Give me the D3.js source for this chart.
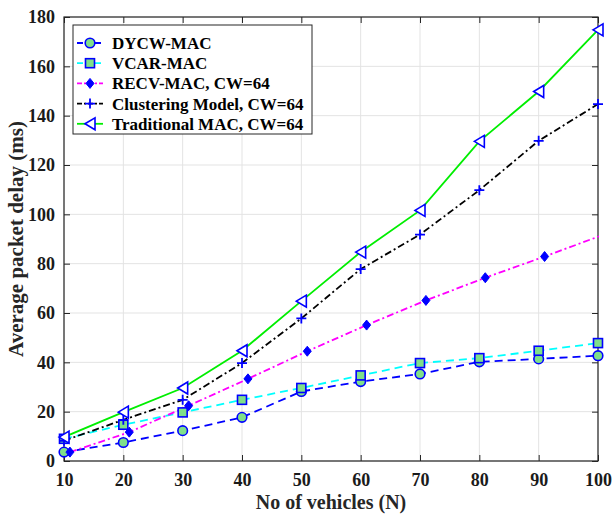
<!DOCTYPE html>
<html>
<head>
<meta charset="utf-8">
<script src="https://cdn.jsdelivr.net/npm/d3@7"></script>
<style>
body { margin:0; background:#fff; }
svg text { font-family: "Liberation Serif", "Times New Roman", serif; font-weight: bold; }
</style>
</head>
<body>
<div class="chart"></div>
<script>
// data
let vehicles = [10, 20, 30, 40, 50, 60, 70, 80, 90, 100];
let recvX = [11, 21, 31, 41, 51, 61, 71, 81, 91, 101];
let dycw = [3.6, 7.5, 12.3, 17.7, 28.2, 32.2, 35.3, 40.2, 41.4, 42.7];
let vcar = [9, 14.7, 19.7, 24.8, 29.6, 34.7, 39.7, 41.7, 44.7, 47.8];
let recv = [3.6, 11.7, 22.4, 33.3, 44.5, 55.1, 65.1, 74.3, 82.9, 91.8];
let clustering = [8.2, 16.7, 24.8, 39.7, 57.8, 77.8, 91.8, 109.8, 129.8, 144.7];
let traditional = [9.7, 19.8, 29.6, 44.7, 64.8, 84.7, 101.6, 129.6, 149.8, 174.8];
let xTicks = [10, 20, 30, 40, 50, 60, 70, 80, 90, 100];
let yTicks = [0, 20, 40, 60, 80, 100, 120, 140, 160, 180];

let series = [
    {name:"DYCW-MAC", xs:vehicles, ys:dycw, color:"#0000ff", dash:"8,5", marker:"circle"},
    {name:"VCAR-MAC", xs:vehicles, ys:vcar, color:"#00ffff", dash:"8,5", marker:"square"},
    {name:"RECV-MAC, CW=64", xs:recvX, ys:recv, color:"#ff00ff", dash:"7,3,2,3", marker:"diamond"},
    {name:"Clustering Model, CW=64", xs:vehicles, ys:clustering, color:"#000000", dash:"7,3,2,3", marker:"plus"},
    {name:"Traditional MAC, CW=64", xs:vehicles, ys:traditional, color:"#00ee00", dash:null, marker:"triangle"}
];

let outWidth = 613, outHeight = 515;
let margin = {top:17, right:15, left:64, bottom:54};
let width = outWidth - margin.left - margin.right,
    height = outHeight - margin.top - margin.bottom;

const svg = d3.select('.chart').append('svg')
    .attr("width", outWidth)
    .attr("height", outHeight);

const g = svg.append("g")
    .attr("transform", `translate(${margin.left}, ${margin.top})`);

let x = d3.scaleLinear().domain([10, 100]).range([0, width]);
let y = d3.scaleLinear().domain([0, 180]).range([height, 0]);

// grid
g.selectAll(".gx").data(xTicks).join("line")
    .attr("x1", d=>x(d)).attr("x2", d=>x(d))
    .attr("y1", 0).attr("y2", height)
    .attr("stroke", "#e3e3e3").attr("stroke-width", 1);
g.selectAll(".gy").data(yTicks).join("line")
    .attr("y1", d=>y(d)).attr("y2", d=>y(d))
    .attr("x1", 0).attr("x2", width)
    .attr("stroke", "#e3e3e3").attr("stroke-width", 1);

// axes, ticks inside like matlab
const styleAxis = sel => {
    sel.select(".domain").remove();
    sel.selectAll("line").attr("stroke", "#262626").attr("stroke-width", 1);
    sel.selectAll("text").attr("font-size", "18px").attr("fill", "#1a1a1a")
       .attr("font-family", "Liberation Serif").attr("font-weight", "bold");
};
g.append("g").attr("transform", `translate(0,${height})`)
    .call(d3.axisBottom(x).tickValues(xTicks).tickSizeInner(-6).tickSizeOuter(0).tickPadding(12))
    .call(styleAxis);
g.append("g")
    .call(d3.axisLeft(y).tickValues(yTicks).tickSizeInner(-6).tickSizeOuter(0).tickPadding(9))
    .call(styleAxis);
g.append("g")
    .call(d3.axisTop(x).tickValues(xTicks).tickSizeInner(-6).tickSizeOuter(0).tickFormat(""))
    .call(styleAxis);
g.append("g").attr("transform", `translate(${width},0)`)
    .call(d3.axisRight(y).tickValues(yTicks).tickSizeInner(-6).tickSizeOuter(0).tickFormat(""))
    .call(styleAxis);

g.append("rect").attr("width", width).attr("height", height)
    .attr("fill", "none").attr("stroke", "#262626").attr("stroke-width", 1.2);

svg.append("defs").append("clipPath").attr("id", "clip")
    .append("rect").attr("width", width + 1).attr("height", height);

// markers
function drawMarker(sel, type) {
    if (type === "circle") {
        sel.append("circle").attr("r", 4.8)
            .attr("fill", "#7fe08a").attr("stroke", "#0000ff").attr("stroke-width", 1.6);
    } else if (type === "square") {
        sel.append("rect").attr("x", -4.5).attr("y", -4.5).attr("width", 9).attr("height", 9)
            .attr("fill", "#7fe08a").attr("stroke", "#0000ff").attr("stroke-width", 1.6);
    } else if (type === "diamond") {
        sel.append("path").attr("d", "M0,-5L4,0L0,5L-4,0Z")
            .attr("fill", "#0000ff").attr("stroke", "#0000ff").attr("stroke-width", 1);
    } else if (type === "plus") {
        sel.append("path").attr("d", "M-5,0H5M0,-5V5")
            .attr("fill", "none").attr("stroke", "#0000ff").attr("stroke-width", 1.8);
    } else if (type === "triangle") {
        sel.append("path").attr("d", "M-5,0L5,-6L5,6Z")
            .attr("fill", "#ffffff").attr("stroke", "#0000ff").attr("stroke-width", 1.6);
    }
}

const line = d3.line().x(d=>x(d[0])).y(d=>y(d[1]));
const plot = g.append("g").attr("clip-path", "url(#clip)");

series.forEach(s => {
    let pts = s.xs.map((v, i) => [v, s.ys[i]]);
    plot.append("path").datum(pts)
        .attr("d", line)
        .attr("fill", "none")
        .attr("stroke", s.color)
        .attr("stroke-width", 1.8)
        .attr("stroke-dasharray", s.dash);
});
series.forEach(s => {
    let pts = s.xs.map((v, i) => [v, s.ys[i]]).filter(p => p[0] <= 100);
    g.selectAll(null).data(pts).join("g")
        .attr("transform", d=>`translate(${x(d[0])},${y(d[1])})`)
        .each(function() { drawMarker(d3.select(this), s.marker); });
});

// legend
const lg = svg.append("g").attr("transform", "translate(73,25)");
lg.append("rect").attr("width", 239).attr("height", 109)
    .attr("fill", "#fff").attr("stroke", "#262626").attr("stroke-width", 1);
series.forEach((s, i) => {
    let row = lg.append("g").attr("transform", `translate(0,${18 + i * 20.2})`);
    row.append("line").attr("x1", 4).attr("x2", 30).attr("y1", 0).attr("y2", 0)
        .attr("stroke", s.color).attr("stroke-width", 1.8)
        .attr("stroke-dasharray", s.dash ? (s.marker === "circle" || s.marker === "square" ? "6,3" : "5,2,2,2") : null);
    drawMarker(row.append("g").attr("transform", "translate(17,0)"), s.marker);
    row.append("text").attr("x", 39).attr("y", 6)
        .attr("font-size", "17px").attr("fill", "#000").text(s.name);
});

// axis labels
svg.append("text")
    .attr("x", margin.left + width / 2).attr("y", 509)
    .attr("text-anchor", "middle").attr("font-size", "20px").attr("fill", "#262626")
    .text("No of vehicles (N)");
svg.append("text")
    .attr("transform", `translate(23,${margin.top + height / 2}) rotate(-90)`)
    .attr("text-anchor", "middle").attr("font-size", "21px").attr("fill", "#262626")
    .text("Average packet delay (ms)");
</script>
</body>
</html>
